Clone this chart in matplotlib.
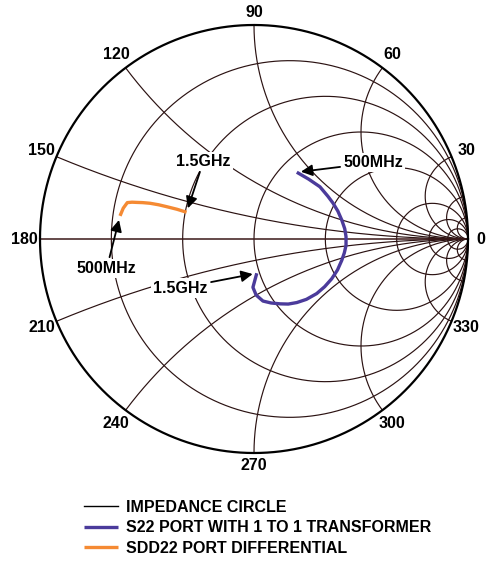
import numpy as np
import matplotlib
matplotlib.use('Agg')
import matplotlib.pyplot as plt

plt.rcParams['font.family'] = ['Liberation Sans', 'DejaVu Sans']
plt.rcParams['font.weight'] = 'bold'

# Smith chart grid values
r_values = [0.2, 0.5, 1, 2, 5, 10, 20]
x_values = [0.2, 0.5, 1, 2, 5, 10, 20]
angle_labels = ['0', '30', '60', '90', '120', '150', '180',
                '210', '240', '270', '300', '330']
label_reactance = [0, 5, 2, 1, 0.5, 0.2, None, -0.2, -0.5, -1, -2, -5]

s22_re = [0.200, 0.255, 0.308, 0.345, 0.369, 0.392, 0.410, 0.424, 0.430, 0.430,
          0.422, 0.410, 0.390, 0.363, 0.330, 0.293, 0.245, 0.200, 0.160, 0.122,
          0.080, 0.042, 0.010, -0.005, 0.013]
s22_im = [0.312, 0.280, 0.244, 0.200, 0.168, 0.130, 0.089, 0.048, 0.011, -0.030,
          -0.065, -0.100, -0.145, -0.186, -0.223, -0.255, -0.282, -0.297, -0.304, -0.303,
          -0.299, -0.290, -0.262, -0.226, -0.160]

sdd22_re = [-0.626, -0.611, -0.592, -0.570, -0.548, -0.520, -0.486, -0.446, -0.408, -0.360, -0.315]
sdd22_im = [0.108, 0.144, 0.170, 0.172, 0.171, 0.170, 0.167, 0.160, 0.151, 0.139, 0.125]

grid_color = '#2b1212'
purple = '#4B3B9B'
orange = '#F58A33'
fs = 11.5

fig = plt.figure(figsize=(4.86, 5.62), dpi=100)
ax = fig.add_axes([0, 0, 1, 1])
ax.set_xlim(-254 / 214, 232 / 214)
ax.set_ylim((239 - 562) / 214, 239 / 214)
ax.axis('off')


def gamma(z):
    return (z - 1) / (z + 1)


# constant resistance circles
t = np.linspace(-np.pi / 2 + 1e-4, np.pi / 2 - 1e-4, 2000)
xx = np.tan(t)
for r in r_values:
    g = gamma(r + 1j * xx)
    ax.plot(g.real, g.imag, color=grid_color, lw=0.85)

# constant reactance arcs
rr = np.concatenate([np.linspace(0, 1, 200), np.logspace(0, 4, 800)])
for x in x_values:
    for s in (1, -1):
        g = gamma(rr + 1j * s * x)
        ax.plot(g.real, g.imag, color=grid_color, lw=0.85)

# real axis and outer circle
ax.plot([-1, 1], [0, 0], color='#3a1818', lw=1.1)
g = gamma(0 + 1j * xx)
ax.plot(np.append(g.real, 1), np.append(g.imag, 0), color='black', lw=1.6)

# angle labels around the edge
for lab, x in zip(angle_labels, label_reactance):
    if x is None:
        ang = np.pi
    else:
        ang = np.angle(gamma(1j * x)) if x != 0 else 0.0
    rad = 1.075 if lab not in ('0', '90', '270') else 1.06
    ax.text(rad * np.cos(ang), rad * np.sin(ang), lab, ha='center', va='center',
            fontsize=fs, fontweight='bold')

s22_line, = ax.plot(s22_re, s22_im, color=purple, lw=2.4, solid_capstyle='butt')
sdd22_line, = ax.plot(sdd22_re, sdd22_im, color=orange, lw=2.4, solid_capstyle='butt')

arrow = dict(arrowstyle='-|>', color='black', lw=1.3, mutation_scale=17,
             shrinkA=1, shrinkB=3)
box = dict(facecolor='white', edgecolor='none', pad=1.5)
ax.annotate('500MHz', xy=(s22_re[0], s22_im[0]), xytext=(0.558, 0.356),
            ha='center', va='center', fontsize=fs, fontweight='bold',
            bbox=box, arrowprops=arrow)
ax.annotate('1.5GHz', xy=(s22_re[-1], s22_im[-1]), xytext=(-0.344, -0.229),
            ha='center', va='center', fontsize=fs, fontweight='bold',
            bbox=box, arrowprops=arrow)
ax.annotate('500MHz', xy=(sdd22_re[0], sdd22_im[0]), xytext=(-0.688, -0.136),
            ha='center', va='center', fontsize=fs, fontweight='bold',
            bbox=box, arrowprops=arrow)
ax.annotate('1.5GHz', xy=(sdd22_re[-1], sdd22_im[-1]), xytext=(-0.236, 0.364),
            ha='center', va='center', fontsize=fs, fontweight='bold',
            bbox=box, arrowprops=arrow)

leg_black = plt.Line2D([], [], color='black', lw=1.0)
fig.legend([leg_black, s22_line, sdd22_line],
           ['IMPEDANCE CIRCLE', 'S22 PORT WITH 1 TO 1 TRANSFORMER', 'SDD22 PORT DIFFERENTIAL'],
           loc='upper left', bbox_to_anchor=(84 / 486, 1 - 500 / 562),
           frameon=False, borderpad=0, borderaxespad=0, handlelength=2.1,
           handletextpad=0.55, labelspacing=0.33,
           prop={'size': fs, 'weight': 'bold'})

fig.savefig('out.png', dpi=100)
